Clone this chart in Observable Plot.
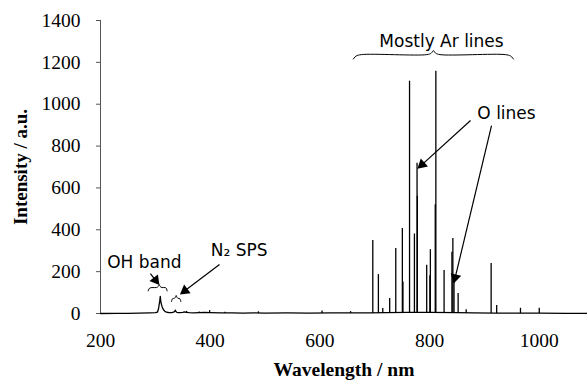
<!DOCTYPE html>
<html><head><meta charset="utf-8">
<script src="https://cdn.jsdelivr.net/npm/d3@7"></script>
<script src="https://cdn.jsdelivr.net/npm/@observablehq/plot@0.6"></script>
<style>body{margin:0;background:#fff;overflow:hidden}</style>
</head><body><div id="chart"></div>
<script>
// Atomic emission lines (nm) and peak intensities (a.u.)
const lineWavelengths = [696.5, 706.7, 714.7, 727.3, 738.4, 750.4, 751.5, 763.5, 772.4, 777.2, 777.8, 794.8, 800.6, 801.5, 810.4, 811.5, 826.5, 840.8, 842.5, 844.6, 852.1, 866.8, 912.3, 922.4, 965.8, 1000, 357, 380, 399, 427, 488, 604, 656];
const lineIntensities = [349, 186, 24, 72, 310, 406, 150, 1110, 380, 718, 560, 230, 180, 305, 520, 1158, 205, 293, 358, 160, 96, 18, 239, 38, 25, 25, 10, 7, 14, 6, 8, 12, 9];
// Continuous baseline with OH band and N2 second positive system
const baseWavelengths = [200, 230, 250, 270, 290, 300, 304, 306, 308, 309, 310, 312, 314, 316, 318, 321, 325, 330, 333, 335, 336.5, 337.5, 339, 341, 344, 350, 353, 355, 358, 362, 370, 380, 390, 400, 420, 440, 460, 480, 500, 540, 580, 620, 660, 690, 720, 760, 800, 850, 880, 920, 960, 1000, 1050, 1088];
const baseIntensities = [0, 1, 1, 2, 3, 4, 7, 25, 60, 82, 55, 35, 22, 14, 9, 6, 4, 4, 6, 9, 16, 10, 6, 4, 4, 5, 8, 6, 5, 4, 3, 4, 5, 4, 3, 3, 2, 3, 2, 3, 2, 3, 3, 3, 4, 5, 5, 4, 3, 2, 2, 2, 1, 1];
const xTicks = [200, 400, 600, 800, 1000];
const yTicks = [0, 200, 400, 600, 800, 1000, 1200, 1400];

// Annotation labels
const labelTexts = ["Mostly Ar lines", "O lines", "OH band", "N\u2082 SPS"];
const labelX = [821.8, 940.3, 280, 453];
const labelY = [1300, 956, 244, 301];
// Arrows (tail -> tip)
const arrowX1 = [874.7, 913, 291, 417];
const arrowY1 = [922, 898, 191, 234];
const arrowX2 = [782.3, 845.5, 303.8, 349.5];
const arrowY2 = [702, 158, 148, 100];
// Braces
const braceAr = [[661,1216],[666,1230],[676,1237],[795,1237],[803,1244],[807,1256],[811,1244],[819,1237],[938,1237],[948,1230],[953,1216]];
const braceOH = [[287,108],[289,120],[294,124],[302,124],[305.5,130],[307,138],[308.5,130],[312,124],[318,124],[320,120],[321.5,108]];
const braceN2 = [[329.5,57],[331,70],[335,73],[337,80],[338,86],[339,80],[341,73],[345,70],[346.5,57]];

const lines = lineWavelengths.map((w, i) => ({w, v: lineIntensities[i]}));
const base = baseWavelengths.map((w, i) => ({w, v: baseIntensities[i]}));
const labels = labelTexts.map((t, i) => ({t, x: labelX[i], y: labelY[i]}));
const arrows = arrowX1.map((x1, i) => ({x1, y1: arrowY1[i], x2: arrowX2[i], y2: arrowY2[i]}));
const braces = [
  ...braceAr.map(([x, y]) => ({g: "Ar", x, y})),
  ...braceOH.map(([x, y]) => ({g: "OH", x, y})),
  ...braceN2.map(([x, y]) => ({g: "N2", x, y}))
];

const serif = "Liberation Serif";
const sans = "DejaVu Sans";
const common = {
  width: 587,
  height: 381,
  marginLeft: 100,
  marginRight: 0,
  marginTop: 20,
  marginBottom: 68,
  style: {fontFamily: serif, fontSize: "19px", color: "#000", background: "#fff", display: "block"},
  x: {domain: [200, 1088], axis: null},
  y: {domain: [0, 1400], axis: null}
};

// First pass: obtain the scales to orient the filled arrow heads
const probe = Plot.plot({...common, marks: [Plot.frame({stroke: "none"})]});
const sx = probe.scale("x"), sy = probe.scale("y");
const heads = arrows.map(a => {
  const px1 = sx.apply(a.x1), py1 = sy.apply(a.y1), px2 = sx.apply(a.x2), py2 = sy.apply(a.y2);
  const len = Math.hypot(px2 - px1, py2 - py1);
  const ux = (px2 - px1) / len, uy = (py2 - py1) / len;
  const back = 3;
  return {
    x: sx.invert(px2 - ux * back),
    y: sy.invert(py2 - uy * back),
    angle: Math.atan2(ux, -uy) * 180 / Math.PI
  };
});

const chart = Plot.plot({
  ...common,
  marks: [
    Plot.axisY({ticks: yTicks, tickSize: 4, tickFormat: () => "", label: null, stroke: "#555"}),
    Plot.text(yTicks, {y: d => d, text: d => String(d), frameAnchor: "left", dx: -20, textAnchor: "end", lineAnchor: "middle", fontFamily: serif, fontSize: 19.5, fill: "#000"}),
    Plot.text(xTicks, {x: d => d, text: d => String(d), frameAnchor: "bottom", dy: 27, textAnchor: "middle", lineAnchor: "middle", fontFamily: serif, fontSize: 19.5, fill: "#000"}),
    Plot.ruleX([200], {y1: 0, y2: 1400, stroke: "#555"}),
    Plot.line(base, {x: "w", y: "v", stroke: "#000", strokeWidth: 1.3}),
    Plot.ruleX(lines, {x: "w", y1: 0, y2: "v", stroke: "#000", strokeWidth: 1.3}),
    Plot.line(braces, {x: "x", y: "y", z: "g", stroke: "#000", strokeWidth: 1, curve: "catmull-rom"}),
    Plot.link(arrows, {x1: "x1", y1: "y1", x2: "x2", y2: "y2", stroke: "#000", strokeWidth: 1.2}),
    Plot.dot(heads, {x: "x", y: "y", rotate: "angle", symbol: "triangle", r: 4, fill: "#000", stroke: "none"}),
    Plot.text(labels, {x: "x", y: "y", text: "t", fontFamily: sans, fontSize: 17, fill: "#000"}),
    Plot.text(["Wavelength / nm"], {text: d => d, frameAnchor: "bottom", dy: 56, fontWeight: "bold", fontFamily: serif, fontSize: 19.5, lineAnchor: "middle", textAnchor: "middle"}),
    Plot.text(["Intensity / a.u."], {text: d => d, frameAnchor: "left", dx: -80, rotate: -90, fontWeight: "bold", fontFamily: serif, fontSize: 19, lineAnchor: "middle", textAnchor: "middle"})
  ]
});
document.getElementById("chart").appendChild(chart);
</script>
</body></html>
